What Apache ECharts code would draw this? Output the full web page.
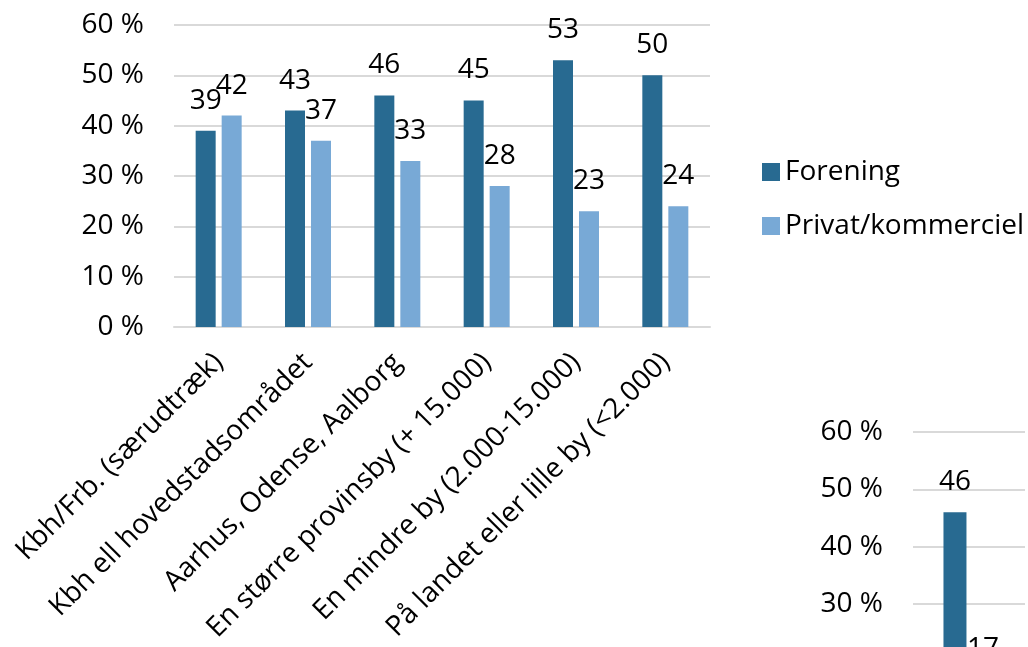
<!DOCTYPE html>
<html>
<head>
<meta charset="utf-8">
<style>
  html, body { margin: 0; padding: 0; background: #ffffff; }
  #chart { width: 1028px; height: 647px; }
</style>
<script src="https://cdn.jsdelivr.net/npm/echarts@6/dist/echarts.min.js"></script>
</head>
<body>
<div id="chart"></div>
<script>
// Byområder og andel af foreningsbaserede vs. private/kommercielle tilbud (%)
const categories = [
  'Kbh/Frb. (særudtræk)',
  'Kbh ell hovedstadsområdet',
  'Aarhus, Odense, Aalborg',
  'En større provinsby (+ 15.000)',
  'En mindre by (2.000-15.000)',
  'På landet eller lille by (<2.000)'
];
const forening = [39, 43, 46, 45, 53, 50];
const privat = [42, 37, 33, 28, 23, 24];

// Næste figur (kun øverste del vises)
const categories2 = ['Samlet'];
const forening2 = [46];
const privat2 = [17];

const seriesNames = ['Forening', 'Privat/kommerciel'];
const yTicks = { min: 0, max: 60, interval: 10 };

const FONT = 'Open Sans';
const DARK = '#286A91';
const LIGHT = '#78A9D6';
const GRID_LINE = '#D9D9D9';

const chart = echarts.init(document.getElementById('chart'), null, { renderer: 'canvas' });

const labelStyle = {
  show: true,
  position: 'top',
  distance: 16,
  fontFamily: FONT,
  fontSize: 28,
  color: '#000000'
};

function yAxisFor(gridIndex) {
  return {
    type: 'value',
    gridIndex: gridIndex,
    min: yTicks.min,
    max: yTicks.max,
    interval: yTicks.interval,
    axisLine: { show: false },
    axisTick: { show: false },
    axisLabel: {
      formatter: '{value} %',
      fontFamily: FONT,
      fontSize: 28,
      color: '#000000',
      margin: 30
    },
    splitLine: { lineStyle: { color: GRID_LINE, width: 2 } }
  };
}

chart.setOption({
  backgroundColor: '#ffffff',
  animation: false,
  legend: {
    orient: 'vertical',
    left: 757,
    top: 153,
    itemWidth: 18,
    itemHeight: 18,
    itemGap: 26,
    icon: 'rect',
    data: seriesNames,
    textStyle: { fontFamily: FONT, fontSize: 28, color: '#000000' }
  },
  grid: [
    { left: 174, top: 25, width: 536, height: 302, outerBoundsMode: 'none' },
    { left: 913, top: 432, width: 112, height: 344, outerBoundsMode: 'none' }
  ],
  xAxis: [
    {
      type: 'category',
      gridIndex: 0,
      data: categories,
      axisLine: { show: true, lineStyle: { color: GRID_LINE, width: 2 } },
      axisTick: { show: false },
      axisLabel: {
        rotate: 45,
        interval: 0,
        margin: 31,
        fontFamily: FONT,
        fontSize: 28,
        color: '#000000'
      }
    },
    {
      type: 'category',
      gridIndex: 1,
      data: categories2,
      axisLine: { show: true, lineStyle: { color: GRID_LINE, width: 2 } },
      axisTick: { show: false },
      axisLabel: { show: false }
    }
  ],
  yAxis: [yAxisFor(0), yAxisFor(1)],
  series: [
    {
      name: seriesNames[0],
      type: 'bar',
      xAxisIndex: 0,
      yAxisIndex: 0,
      data: forening,
      barWidth: 20,
      barGap: '30%',
      itemStyle: { color: DARK },
      label: labelStyle
    },
    {
      name: seriesNames[1],
      type: 'bar',
      xAxisIndex: 0,
      yAxisIndex: 0,
      data: privat,
      barWidth: 20,
      barGap: '30%',
      itemStyle: { color: LIGHT },
      label: labelStyle
    },
    {
      name: seriesNames[0],
      type: 'bar',
      xAxisIndex: 1,
      yAxisIndex: 1,
      data: forening2,
      barWidth: 23,
      barGap: '22%',
      itemStyle: { color: DARK },
      label: labelStyle
    },
    {
      name: seriesNames[1],
      type: 'bar',
      xAxisIndex: 1,
      yAxisIndex: 1,
      data: privat2,
      barWidth: 23,
      barGap: '22%',
      itemStyle: { color: LIGHT },
      label: labelStyle
    }
  ]
});
</script>
</body>
</html>
